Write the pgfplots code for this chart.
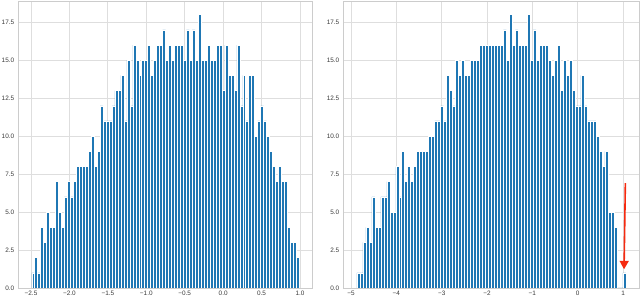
\documentclass[border=0pt]{standalone}
\usepackage{fontspec}
\setmainfont{Liberation Sans}
\usepackage{pgfplots}
\usepackage{pgfplotstable}
\pgfplotsset{compat=1.18}
\usetikzlibrary{arrows.meta}
\definecolor{barblue}{HTML}{1F77B4}
\definecolor{gridgray}{HTML}{DEDEDE}
\definecolor{framegray}{HTML}{CCCCCC}
\definecolor{ticktext}{HTML}{3A3A3A}
\definecolor{arrowred}{HTML}{F52A10}

\pgfplotstableread{
x y
-2.4900 1
-2.4513 2
-2.4127 1
-2.3740 4
-2.3353 3
-2.2967 5
-2.2580 4
-2.2193 4
-2.1807 7
-2.1420 5
-2.1033 4
-2.0647 6
-2.0260 7
-1.9873 6
-1.9487 7
-1.9100 8
-1.8713 8
-1.8327 8
-1.7940 8
-1.7553 9
-1.7167 10
-1.6780 8
-1.6393 9
-1.6007 12
-1.5620 11
-1.5233 11
-1.4847 11
-1.4460 12
-1.4073 13
-1.3687 13
-1.3300 14
-1.2913 11
-1.2527 15
-1.2140 12
-1.1753 16
-1.1367 15
-1.0980 14
-1.0593 15
-1.0207 15
-0.9820 16
-0.9433 14
-0.9047 15
-0.8660 16
-0.8273 16
-0.7887 17
-0.7500 15
-0.7113 16
-0.6727 15
-0.6340 16
-0.5953 16
-0.5567 16
-0.5180 15
-0.4793 17
-0.4407 15
-0.4020 17
-0.3633 15
-0.3247 18
-0.2860 15
-0.2473 15
-0.2087 16
-0.1700 15
-0.1313 15
-0.0927 16
-0.0540 16
-0.0153 13
0.0233 16
0.0620 14
0.1007 14
0.1393 13
0.1780 16
0.2167 12
0.2553 14
0.2940 11
0.3327 14
0.3713 14
0.4100 10
0.4487 11
0.4873 12
0.5260 11
0.5647 10
0.6033 9
0.6420 8
0.6807 7
0.7193 8
0.7580 7
0.7967 7
0.8353 4
0.8740 3
0.9127 3
0.9513 2
0.9900 2
}\lefthist

\pgfplotstableread{
x y
-4.8700 1
-4.8041 1
-4.7382 3
-4.6723 4
-4.6064 3
-4.5406 6
-4.4747 4
-4.4088 4
-4.3429 6
-4.2770 6
-4.2111 7
-4.1452 5
-4.0793 5
-4.0134 8
-3.9476 6
-3.8817 9
-3.8158 7
-3.7499 8
-3.6840 7
-3.6181 8
-3.5522 9
-3.4863 9
-3.4204 9
-3.3546 9
-3.2887 10
-3.2228 10
-3.1569 11
-3.0910 11
-3.0251 12
-2.9592 11
-2.8933 14
-2.8274 13
-2.7616 12
-2.6957 15
-2.6298 14
-2.5639 15
-2.4980 14
-2.4321 14
-2.3662 15
-2.3003 15
-2.2344 15
-2.1686 16
-2.1027 16
-2.0368 16
-1.9709 16
-1.9050 16
-1.8391 16
-1.7732 16
-1.7073 16
-1.6414 17
-1.5756 15
-1.5097 18
-1.4438 16
-1.3779 17
-1.3120 16
-1.2461 16
-1.1802 16
-1.1143 18
-1.0484 15
-0.9826 17
-0.9167 15
-0.8508 16
-0.7849 16
-0.7190 16
-0.6531 15
-0.5872 14
-0.5213 15
-0.4554 16
-0.3896 13
-0.3237 15
-0.2578 14
-0.1919 15
-0.1260 13
-0.0601 12
0.0058 12
0.0717 14
0.1376 12
0.2034 11
0.2693 11
0.3352 11
0.4011 10
0.4670 9
0.5329 8
0.5988 9
0.6647 5
0.7306 5
0.7964 4
0.8623 0
0.9282 0
0.9941 1
1.0600 1
}\righthist

\pgfplotsset{
  histstyle/.style={
    scale only axis,
    height=287pt,
    ymin=0, ymax=18.9,
    ytick={0,2.5,5,7.5,10,12.5,15,17.5},
    yticklabels={0.0,2.5,5.0,7.5,10.0,12.5,15.0,17.5},
    grid=major,
    major grid style={draw=gridgray, line width=0.8pt},
    axis line style={draw=framegray, line width=0.8pt},
    major tick length=0pt,
    tick label style={font=\fontsize{6.4}{7}\selectfont, text=ticktext},
    xticklabel style={inner sep=0pt, anchor=north, yshift=-3pt},
    yticklabel style={inner sep=0pt, anchor=east, xshift=-4pt},
  }
}

\begin{document}
\begin{tikzpicture}
\path[use as bounding box] (0,0) rectangle (640pt,297pt);
\begin{axis}[histstyle,
  at={(18.4pt,9pt)}, anchor=south west, width=294.2pt,
  xmin=-2.664, xmax=1.164,
  xtick={-2.5,-2,-1.5,-1,-0.5,0,0.5,1},
  xticklabels={−2.5,−2.0,−1.5,−1.0,−0.5,0.0,0.5,1.0},
]
\addplot[ybar interval, fill=barblue, draw=white, line width=0.5pt] table[x=x,y=y] {\lefthist};
\end{axis}
\begin{axis}[histstyle,
  at={(343.5pt,9pt)}, anchor=south west, width=295.7pt,
  xmin=-5.1665, xmax=1.3565,
  xtick={-5,-4,-3,-2,-1,0,1},
  xticklabels={−5,−4,−3,−2,−1,0,1},
]
\addplot[ybar interval, fill=barblue, draw=white, line width=0.5pt] table[x=x,y=y] {\righthist};
\draw[arrowred, line width=1.6pt, -{Triangle[width=9pt,length=8.5pt]}] (axis cs:1.051,6.9) -- (axis cs:1.022,1.23);
\end{axis}
\end{tikzpicture}
\end{document}
